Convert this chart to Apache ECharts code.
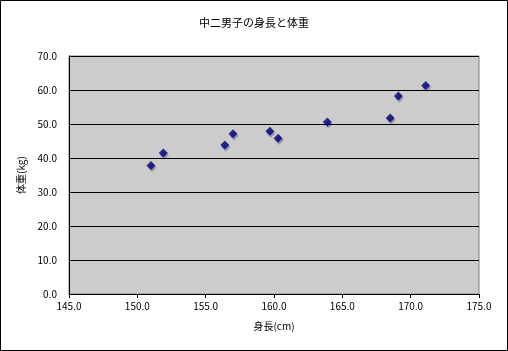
<!DOCTYPE html>
<html><head><meta charset="utf-8">
<script src="https://cdn.jsdelivr.net/npm/echarts@6/dist/echarts.min.js"></script>
<style>html,body{margin:0;padding:0;background:#fff}#c{width:508px;height:351px}</style>
</head><body><div id="c"></div>
<script>
const heights = [151.0, 151.9, 156.4, 157.0, 159.7, 160.3, 163.9, 168.5, 169.1, 171.1];
const weights = [37.8, 41.5, 43.8, 47.1, 47.9, 45.8, 50.6, 51.8, 58.2, 61.3];
const titleText = '中二男子の身長と体重';
const xName = '身長(cm)';
const yName = '体重(kg)';
const font = '"Noto Sans CJK JP", "Liberation Sans", sans-serif';
const chart = echarts.init(document.getElementById('c'), null, {renderer: 'canvas'});
chart.setOption({
  animation: false,
  backgroundColor: '#fff',
  title: {text: titleText, left: 'center', top: 12, textStyle: {fontSize: 11, fontWeight: 'normal', color: '#000', fontFamily: font}},
  graphic: [{type: 'rect', shape: {x: 0.5, y: 0.5, width: 507, height: 350}, style: {fill: null, stroke: '#000', lineWidth: 1}, silent: true}],
  grid: {left: 69, right: 29, top: 56, bottom: 57, show: true, backgroundColor: '#cccccc', borderColor: '#808080', borderWidth: 1},
  xAxis: {
    type: 'value', min: 145, max: 175, interval: 5,
    name: xName, nameLocation: 'middle', nameGap: 27,
    nameTextStyle: {fontSize: 10, color: '#000', fontFamily: font},
    axisLine: {show: true, lineStyle: {color: '#000'}},
    axisTick: {show: true, length: 4, lineStyle: {color: '#000'}},
    axisLabel: {fontSize: 10, color: '#000', fontFamily: font, margin: 7, formatter: v => v.toFixed(1)},
    splitLine: {show: false}
  },
  yAxis: {
    type: 'value', min: 0, max: 70, interval: 10,
    name: yName, nameLocation: 'middle', nameGap: 37, nameRotate: 90,
    nameTextStyle: {fontSize: 10, color: '#000', fontFamily: font},
    axisLine: {show: true, lineStyle: {color: '#000'}},
    axisTick: {show: false},
    axisLabel: {fontSize: 10, color: '#000', fontFamily: font, margin: 12, formatter: v => v.toFixed(1)},
    splitLine: {show: true, lineStyle: {color: '#000', width: 1}}
  },
  series: [{
    type: 'scatter', symbol: 'diamond', symbolSize: 9,
    data: heights.map((h, i) => [h, weights[i]]),
    itemStyle: {color: '#000080', shadowColor: 'rgba(0,0,0,0.35)', shadowOffsetX: 1, shadowOffsetY: 2, shadowBlur: 1}
  }]
});
</script></body></html>
